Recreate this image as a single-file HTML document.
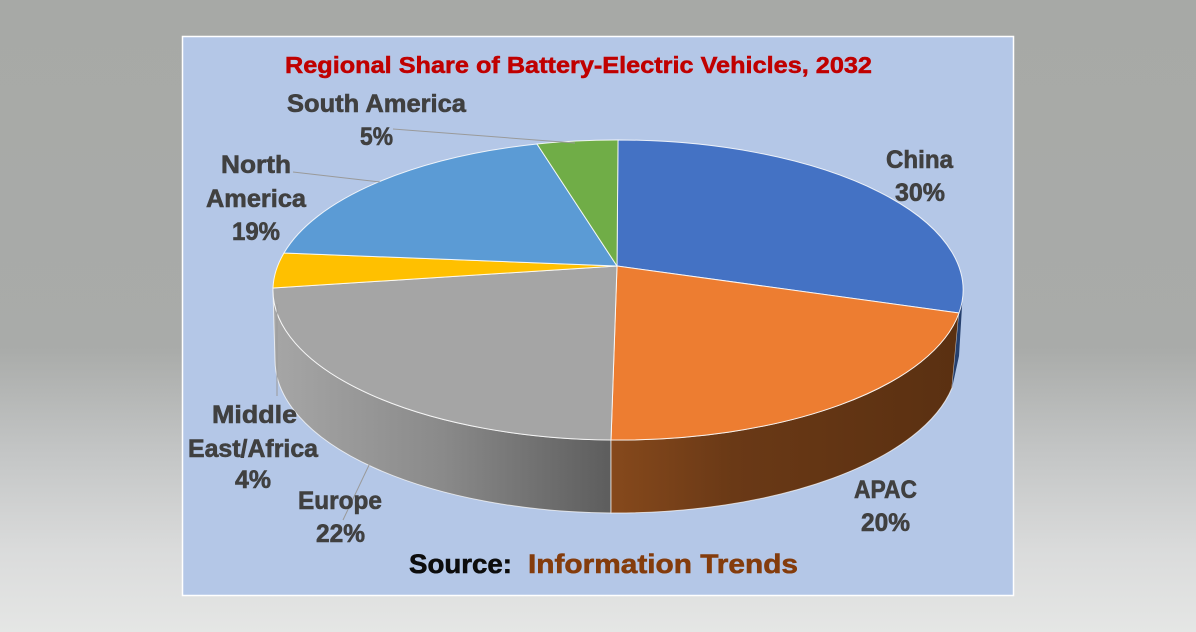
<!DOCTYPE html>
<html>
<head>
<meta charset="utf-8">
<style>
  html,body{margin:0;padding:0;}
  body{width:1196px;height:632px;overflow:hidden;
    background:linear-gradient(to bottom,#a7a9a6 0%,#a9aba9 55%,#c4c6c6 72%,#dadbdb 87%,#e5e6e5 100%);}
  svg{display:block;}
  .lb{font-family:"Liberation Sans",sans-serif;font-weight:bold;font-size:25px;fill:#404040;stroke:#404040;stroke-width:0.6px;}
</style>
</head>
<body>
<svg width="1196" height="632" viewBox="0 0 1196 632" xmlns="http://www.w3.org/2000/svg">
  <defs>
    <linearGradient id="gs" x1="0" y1="0" x2="1" y2="0">
      <stop offset="0" stop-color="#a6a6a6"/>
      <stop offset="0.5" stop-color="#8a8a8a"/>
      <stop offset="1" stop-color="#5d5d5d"/>
    </linearGradient>
    <linearGradient id="os" x1="0" y1="0" x2="1" y2="0">
      <stop offset="0" stop-color="#86491c"/>
      <stop offset="0.35" stop-color="#6a3916"/>
      <stop offset="1" stop-color="#5a3011"/>
    </linearGradient>
  </defs>

  <!-- panel -->
  <rect x="182.5" y="36.5" width="831" height="559" fill="#b4c7e7" stroke="#ffffff" stroke-width="1.5"/>

  <!-- title -->
  <text x="285" y="73" font-family="Liberation Sans, sans-serif" font-weight="bold" font-size="23" fill="#c00000" stroke="#c00000" stroke-width="0.5" textLength="587" lengthAdjust="spacingAndGlyphs">Regional Share of Battery-Electric Vehicles, 2032</text>

  <!-- sides -->
  <path d="M273,290 A345,150 0 0 0 611,440 L611,513 A342,153 0 0 1 275,360 Z" fill="url(#gs)" stroke="#ffffff" stroke-opacity="0.7" stroke-width="1"/>
  <path d="M611,440 A345,150 0 0 0 959,313 L952,388 A342,153 0 0 1 611,513 Z" fill="url(#os)" stroke="#ffffff" stroke-opacity="0.7" stroke-width="1"/>
  <path d="M959,313 A345,150 0 0 0 963,290 L959,356 L952,388 Z" fill="#26406e"/>

  <!-- top slices -->
  <g stroke="#ffffff" stroke-opacity="0.85" stroke-width="1" stroke-linejoin="round">
    <path d="M617,266 L618,140 A345,150 0 0 1 959,313 Z" fill="#4472c4"/>
    <path d="M617,266 L959,313 A345,150 0 0 1 611,440 Z" fill="#ed7d31"/>
    <path d="M617,266 L611,440 A345,150 0 0 1 273,288 Z" fill="#a5a5a5"/>
    <path d="M617,266 L273,288 A345,150 0 0 1 284,253 Z" fill="#ffc000"/>
    <path d="M617,266 L284,253 A345,150 0 0 1 537,144 Z" fill="#5b9bd5"/>
    <path d="M617,266 L537,144 A345,150 0 0 1 618,140 Z" fill="#70ad47"/>
  </g>

  <!-- leader lines -->
  <g stroke="#9a9a9a" stroke-width="1" fill="none">
    <line x1="393" y1="129" x2="575" y2="143"/>
    <line x1="293" y1="172" x2="380" y2="182"/>
    <line x1="277" y1="304" x2="277" y2="396"/>
    <line x1="343" y1="520" x2="370" y2="463"/>
  </g>

  <!-- labels -->
  <text class="lb" x="287" y="112" textLength="179" lengthAdjust="spacingAndGlyphs">South America</text>
  <text class="lb" x="360" y="145" textLength="33" lengthAdjust="spacingAndGlyphs">5%</text>

  <text class="lb" x="221" y="173" textLength="70" lengthAdjust="spacingAndGlyphs">North</text>
  <text class="lb" x="206" y="207" textLength="100" lengthAdjust="spacingAndGlyphs">America</text>
  <text class="lb" x="232" y="240" textLength="48" lengthAdjust="spacingAndGlyphs">19%</text>

  <text class="lb" x="886" y="168" textLength="67" lengthAdjust="spacingAndGlyphs">China</text>
  <text class="lb" x="895" y="201" textLength="50" lengthAdjust="spacingAndGlyphs">30%</text>

  <text class="lb" x="854" y="498" textLength="63" lengthAdjust="spacingAndGlyphs">APAC</text>
  <text class="lb" x="861" y="531" textLength="49" lengthAdjust="spacingAndGlyphs">20%</text>

  <text class="lb" x="212" y="423" textLength="85" lengthAdjust="spacingAndGlyphs">Middle</text>
  <text class="lb" x="188" y="457" textLength="130" lengthAdjust="spacingAndGlyphs">East/Africa</text>
  <text class="lb" x="235" y="488" textLength="36" lengthAdjust="spacingAndGlyphs">4%</text>

  <text class="lb" x="298" y="509" textLength="84" lengthAdjust="spacingAndGlyphs">Europe</text>
  <text class="lb" x="316" y="542" textLength="49" lengthAdjust="spacingAndGlyphs">22%</text>

  <!-- source -->
  <text x="409" y="573" font-family="Liberation Sans, sans-serif" font-weight="bold" font-size="27" fill="#0d0d0d" stroke="#0d0d0d" stroke-width="0.6" textLength="103" lengthAdjust="spacingAndGlyphs">Source:</text>
  <text x="528" y="573" font-family="Liberation Sans, sans-serif" font-weight="bold" font-size="27" fill="#843c0c" stroke="#843c0c" stroke-width="0.6" textLength="270" lengthAdjust="spacingAndGlyphs">Information Trends</text>
</svg>
</body>
</html>
